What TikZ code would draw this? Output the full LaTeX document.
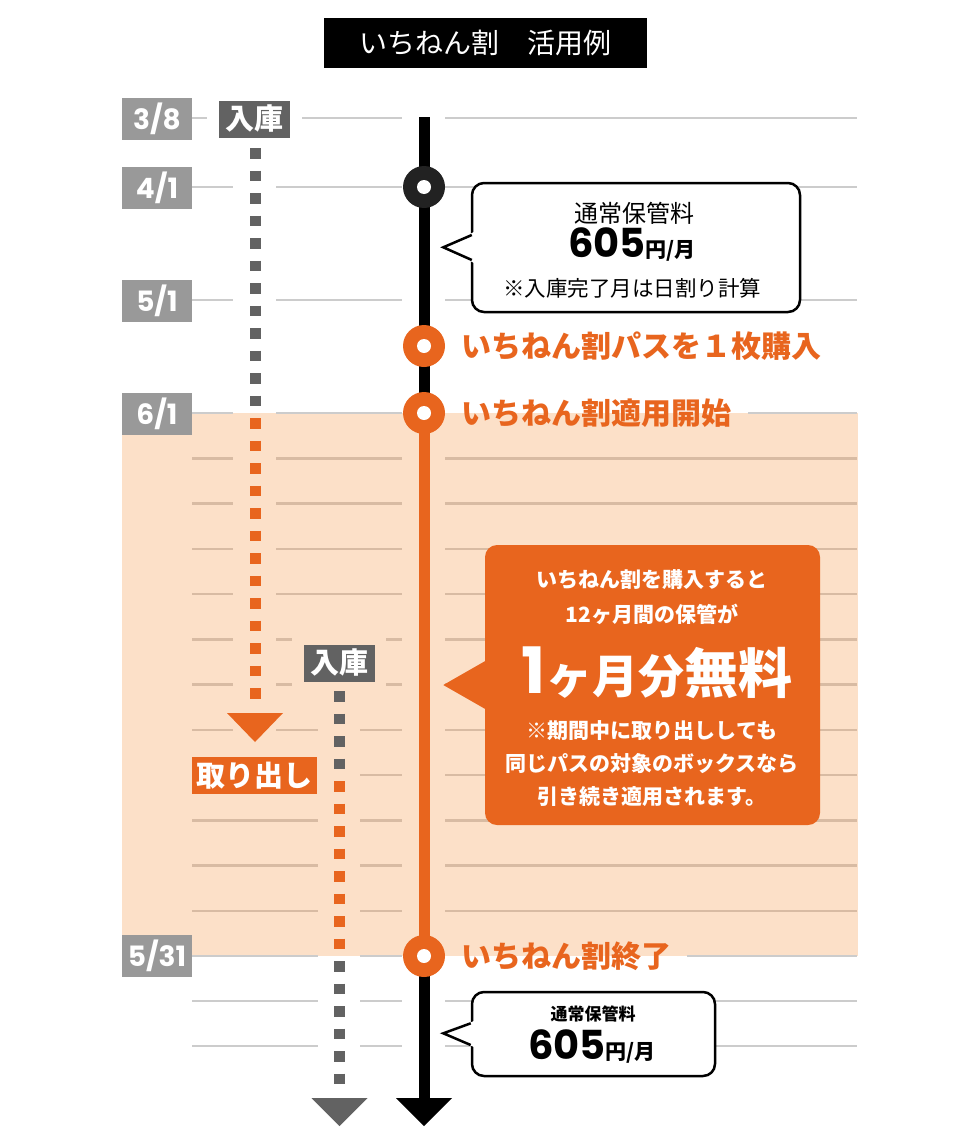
\documentclass[tikz,border=0pt]{standalone}
\usepackage{fontspec}
\setmainfont{Noto Sans CJK JP}
\newfontfamily\numf{Poppins}
\definecolor{orng}{HTML}{E8651E}
\definecolor{bandc}{HTML}{FCE0C8}
\definecolor{lblc}{HTML}{999999}
\definecolor{dkc}{HTML}{626262}
\definecolor{glc}{HTML}{CCCCCC}
\definecolor{blc}{HTML}{D8BBA3}
\definecolor{ringk}{HTML}{222222}
\begin{document}
\begin{tikzpicture}[x=1pt,y=-1pt,
  every node/.style={inner sep=0pt, outer sep=0pt},
  datebox/.style={fill=lblc, text=white, minimum width=70pt, minimum height=42pt, font=\numf\bfseries\fontsize{28}{28}\selectfont},
  inbox/.style={fill=dkc, text=white, minimum width=71pt, minimum height=37pt, font=\bfseries\fontsize{29}{29}\selectfont},
  outbox/.style={fill=orng, text=white, minimum width=125pt, minimum height=37pt, font=\bfseries\fontsize{29}{29}\selectfont},
  olab/.style={anchor=west, text=orng, font=\bfseries\fontsize{30}{30}\selectfont},
  gline/.style={draw=glc, line width=2.5pt},
  bline/.style={draw=blc, line width=2.5pt},
  dashg/.style={draw=dkc, line width=11pt, dash pattern=on 10.5pt off 12pt},
  dasho/.style={draw=orng, line width=11pt, dash pattern=on 10.5pt off 12pt},
  ring/.style={circle, minimum size=42pt, fill=#1},
  wbox/.style={fill=white, draw=black, line width=2.5pt, rounded corners=12pt},
  ow/.style={text=white, font=\bfseries\fontsize{21}{21}\selectfont}
]
\useasboundingbox (0,0) rectangle (970,1140);
\fill[white] (0,0) rectangle (970,1140);

% band
\fill[bandc] (122,413) rectangle (858,956);

% grid lines
\draw[gline] (192,118)--(207,118) (302,118)--(402,118) (445,118)--(857,118);
\foreach \y in {187,300} \draw[gline] (192,\y)--(233,\y) (276,\y)--(402,\y) (445,\y)--(857,\y);
\draw[gline] (192,413)--(233,413) (276,413)--(402,413) (748,413)--(857,413);
\foreach \y in {458.25,503.5,548.75,594} \draw[bline] (192,\y)--(233,\y) (276,\y)--(402,\y) (445,\y)--(857,\y);
\foreach \y in {639.25,684.5} \draw[bline] (192,\y)--(233,\y) (276,\y)--(292,\y) (386,\y)--(402,\y) (445,\y)--(857,\y);
\draw[bline] (192,729.75)--(233,729.75) (276,729.75)--(318,729.75) (360,729.75)--(402,729.75) (445,729.75)--(857,729.75);
\draw[bline] (360,775)--(402,775) (445,775)--(857,775);
\foreach \y in {820.25,865.5,910.75} \draw[bline] (192,\y)--(318,\y) (360,\y)--(402,\y) (445,\y)--(857,\y);
\draw[gline] (192,956)--(318,956) (360,956)--(402,956) (687,956)--(857,956);
\foreach \y in {1001,1046} \draw[gline] (192,\y)--(318,\y) (360,\y)--(402,\y) (445,\y)--(857,\y);

% coordinates
\coordinate (mtop) at (424,117);
\coordinate (p41) at (424,187);
\coordinate (pbuy) at (424,346);
\coordinate (pst) at (424,413);
\coordinate (pend) at (424,956);
\coordinate (mend) at (424,1099);
\coordinate (d1a) at (255,148);
\coordinate (d1b) at (255,410);
\coordinate (d1c) at (255,418);
\coordinate (d1d) at (255,702);
\coordinate (d2a) at (339.5,691);
\coordinate (d2b) at (339.5,770);
\coordinate (d2c) at (339.5,781);
\coordinate (d2d) at (339.5,951);
\coordinate (d2e) at (339.5,961);
\coordinate (d2f) at (339.5,1086);

% dashed storage lines
\draw[dashg] (d1a) -- (d1b);
\draw[dasho] (d1c) -- (d1d);
\fill[orng] (227,713) -- (283,713) -- (255,742) -- cycle;
\draw[dashg] (d2a) -- (d2b);
\draw[dasho] (d2c) -- (d2d);
\draw[dashg] (d2e) -- (d2f);
\fill[dkc] (311.5,1098) -- (367.5,1098) -- (339.5,1126) -- cycle;

% main timeline
\draw[line width=11pt] (mtop) -- (pst);
\draw[orng, line width=11pt] (pst) -- (pend);
\draw[line width=11pt] (pend) -- (mend);
\fill (396,1098) -- (452,1098) -- (424,1126) -- cycle;

% rings
\node[ring=ringk] (c41) at (p41) {};
\node[ring=orng] (cbuy) at (pbuy) {};
\node[ring=orng] (cst) at (pst) {};
\node[ring=orng] (cend) at (pend) {};
\foreach \n in {c41,cbuy,cst,cend} \fill[white] (\n.center) circle (7pt);

% title
\node[fill=black, text=white, minimum width=323pt, minimum height=50pt, font=\fontsize{28}{28}\selectfont] (title) at (485.5,43.3) {いちねん割　活用例};

% date labels
\node[datebox] (d38) at (157,118.5) {3/8};
\node[datebox] (d41) at (157,187.5) {4/1};
\node[datebox] (d51) at (157,301) {5/1};
\node[datebox] (d61) at (157,413.5) {6/1};
\node[datebox] (d531) at (157,956) {5/31};

% in/out labels
\node[inbox] (in1) at (254,119) {入庫};
\node[inbox] (in2) at (339,663) {入庫};
\node[outbox] (out1) at (254.5,775.5) {取り出し};

% orange event labels
\node[olab] (lbuy) at (461,346) {いちねん割パスを１枚購入};
\node[olab] (lst) at (461,413) {いちねん割適用開始};
\node[olab] (lend) at (461,956) {いちねん割終了};

% callout 1
\node[wbox, minimum width=328pt, minimum height=129pt] (cb1) at (636,247.5) {};
\fill[white] (443,247) -- (474,232) -- (474,263) -- cycle;
\draw[line width=2.5pt, line join=miter] (471.8,235) -- (443.3,247.3) -- (471.8,260);
\node[font=\fontsize{24}{24}\selectfont] (t1a) at (634,213) {通常保管料};
\node (t1b) at (632,245) {{\numf\bfseries\fontsize{40}{40}\selectfont 605}{\bfseries\fontsize{21}{21}\selectfont 円/月}};
\node[font=\fontsize{21.5}{21.5}\selectfont] (t1c) at (632,288) {※入庫完了月は日割り計算};

% orange callout
\node[fill=orng, rounded corners=12pt, minimum width=335pt, minimum height=280pt] (cb2) at (652.5,685) {};
\fill[orng] (443.3,685) -- (487,660) -- (487,710) -- cycle;
\node[ow] (t2a) at (652,580) {いちねん割を購入すると};
\node[ow] (t2b) at (652,614) {12ヶ月間の保管が};
\node[text=white] (t2c) at (657,673) {{\numf\bfseries\fontsize{64}{64}\selectfont 1}{\bfseries\fontsize{46}{46}\selectfont ヶ月分}{\bfseries\fontsize{54}{54}\selectfont 無料}};
\node[ow] (t2d) at (652,731) {※期間中に取り出ししても};
\node[ow] (t2e) at (652,764) {同じパスの対象のボックスなら};
\node[ow] (t2f) at (652,797) {引き続き適用されます。};

% callout 3
\node[wbox, minimum width=243pt, minimum height=84pt] (cb3) at (593.5,1034) {};
\fill[white] (443,1033.5) -- (474,1021) -- (474,1047) -- cycle;
\draw[line width=2.5pt, line join=miter] (470.7,1023.3) -- (443.3,1033.3) -- (470.7,1045);
\node[font=\bfseries\fontsize{17}{17}\selectfont] (t3a) at (593,1014) {通常保管料};
\node (t3b) at (592,1047) {{\numf\bfseries\fontsize{40}{40}\selectfont 605}{\bfseries\fontsize{21}{21}\selectfont 円/月}};
\end{tikzpicture}
\end{document}
